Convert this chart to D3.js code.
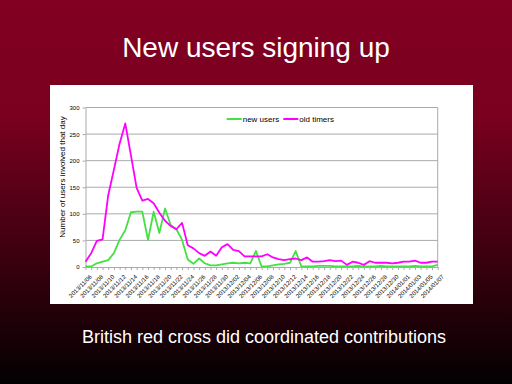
<!DOCTYPE html>
<html>
<head>
<meta charset="utf-8">
<script src="https://cdn.jsdelivr.net/npm/d3@7"></script>
<style>
  html, body { margin: 0; padding: 0; }
  body { width: 512px; height: 384px; overflow: hidden; }
  text { font-family: "Liberation Sans", Arial, sans-serif; }
</style>
</head>
<body>
<svg id="chart" width="512" height="384"></svg>
<script>
// categories (one per day)
var dates = [
  "2013/11/06","2013/11/07","2013/11/08","2013/11/09","2013/11/10","2013/11/11","2013/11/12",
  "2013/11/13","2013/11/14","2013/11/15","2013/11/16","2013/11/17","2013/11/18","2013/11/19",
  "2013/11/20","2013/11/21","2013/11/22","2013/11/23","2013/11/24","2013/11/25","2013/11/26",
  "2013/11/27","2013/11/28","2013/11/29","2013/11/30","2013/12/01","2013/12/02","2013/12/03",
  "2013/12/04","2013/12/05","2013/12/06","2013/12/07","2013/12/08","2013/12/09","2013/12/10",
  "2013/12/11","2013/12/12","2013/12/13","2013/12/14","2013/12/15","2013/12/16","2013/12/17",
  "2013/12/18","2013/12/19","2013/12/20","2013/12/21","2013/12/22","2013/12/23","2013/12/24",
  "2013/12/25","2013/12/26","2013/12/27","2013/12/28","2013/12/29","2013/12/30","2013/12/31",
  "2014/01/01","2014/01/02","2014/01/03","2014/01/04","2014/01/05","2014/01/06","2014/01/07"
];

// series
var newUsers = [
  1, 1, 7, 10, 13, 26, 51, 69, 103, 104, 104, 51, 104, 64, 110, 79, 71, 51, 14, 6, 16,
  7, 3, 3, 5, 7, 8, 7, 8, 7, 30, 1, 1, 3, 5, 6, 8, 30, 1, 1, 1, 2, 2, 2,
  1, 1, 1, 1, 2, 1, 1, 1, 2, 1, 1, 1, 1, 1, 2, 1, 1, 1, 4
];
var oldTimers = [
  10, 26, 49, 52, 135, 183, 232, 270, 210, 149, 125, 128, 120, 102, 87, 77, 71, 83, 41, 35, 26,
  21, 29, 21, 37, 43, 32, 30, 20, 20, 20, 20, 24, 18, 15, 13, 15, 16, 13, 18, 10, 10, 11, 13,
  11, 12, 4, 10, 8, 4, 11, 8, 8, 8, 7, 8, 10, 10, 12, 8, 8, 10, 10
];

var seriesNames = ["new users", "old timers"];
var seriesColors = ["#44e044", "#ff00ff"];
var yTicks = [0, 50, 100, 150, 200, 250, 300];
// every second date gets a label
var xTickLabels = dates.filter(function(d, i) { return i % 2 == 0; });

var titleText = "New users signing up";
var captionText = "British red cross did coordinated contributions";
var yTitle = "Number of users involved that day";

var svg = d3.select("#chart");

// slide background
var grad = svg.append("defs").append("linearGradient")
    .attr("id", "bg").attr("x1", 0).attr("y1", 0).attr("x2", 0).attr("y2", 1);
grad.append("stop").attr("offset", "0%").attr("stop-color", "#820022");
grad.append("stop").attr("offset", "30%").attr("stop-color", "#7a001f");
grad.append("stop").attr("offset", "100%").attr("stop-color", "#030001");
svg.append("rect").attr("width", 512).attr("height", 384).attr("fill", "url(#bg)");

svg.append("text")
    .attr("x", 256).attr("y", 57)
    .attr("text-anchor", "middle")
    .attr("fill", "#fff")
    .style("font-size", "28px")
    .text(titleText);

svg.append("text")
    .attr("x", 264).attr("y", 343)
    .attr("text-anchor", "middle")
    .attr("fill", "#fff")
    .style("font-size", "18px")
    .text(captionText);

// white chart panel
svg.append("rect")
    .attr("x", 50).attr("y", 85).attr("width", 423).attr("height", 219)
    .attr("fill", "#fff");

var plotL = 85.5, plotR = 437.7, plotT = 107.5, plotB = 267;

var x = d3.scalePoint().domain(dates).range([plotL, plotR]);
var y = d3.scaleLinear().domain([0, 300]).range([plotB, plotT]);

// gridlines
svg.append("g").selectAll("line")
    .data(yTicks.slice(1)).enter()
    .append("line")
    .attr("x1", plotL).attr("x2", plotR)
    .attr("y1", function(d) { return y(d); })
    .attr("y2", function(d) { return y(d); })
    .attr("stroke", "#aaa").attr("stroke-width", 1);

svg.append("line")
    .attr("x1", plotR).attr("x2", plotR).attr("y1", plotT).attr("y2", plotB)
    .attr("stroke", "#aaa").attr("stroke-width", 1);

// y axis
var yAxis = svg.append("g")
    .attr("transform", "translate(" + plotL + ",0)")
    .call(d3.axisLeft(y).tickValues(yTicks).tickSize(3).tickSizeOuter(0));
yAxis.select(".domain").attr("stroke", "#aaa");
yAxis.selectAll(".tick line").attr("stroke", "#aaa");
yAxis.selectAll(".tick text")
    .attr("fill", "#000")
    .style("font-size", "6px")
    .style("font-family", "Liberation Sans, Arial, sans-serif");

// x axis
var xAxis = svg.append("g")
    .attr("transform", "translate(0," + plotB + ")")
    .call(d3.axisBottom(x).tickSize(3).tickSizeOuter(0)
      .tickFormat(function(d) { return xTickLabels.indexOf(d) >= 0 ? d : ""; }));
xAxis.select(".domain").attr("stroke", "#aaa");
xAxis.selectAll(".tick line").attr("stroke", "#aaa");
xAxis.selectAll(".tick text")
    .attr("fill", "#000")
    .style("font-size", "6px")
    .style("font-family", "Liberation Sans, Arial, sans-serif")
    .attr("text-anchor", "end")
    .attr("dx", 0).attr("dy", 0)
    .attr("transform", "translate(2,6) rotate(-45)");

svg.append("text")
    .attr("transform", "translate(65,177) rotate(-90)")
    .attr("text-anchor", "middle")
    .attr("fill", "#000")
    .style("font-size", "8px")
    .text(yTitle);

// lines
var line = d3.line()
    .x(function(d, i) { return x(dates[i]); })
    .y(function(d) { return y(d); });

[newUsers, oldTimers].forEach(function(s, k) {
  svg.append("path")
      .datum(s)
      .attr("d", line)
      .attr("fill", "none")
      .attr("stroke", seriesColors[k])
      .attr("stroke-width", 1.8)
      .attr("stroke-linejoin", "round");
});

// legend
var legX = [226.7, 283.3];
seriesNames.forEach(function(n, k) {
  svg.append("line")
      .attr("x1", legX[k]).attr("x2", legX[k] + 15)
      .attr("y1", 119).attr("y2", 119)
      .attr("stroke", seriesColors[k]).attr("stroke-width", 2);
  svg.append("text")
      .attr("x", legX[k] + 16).attr("y", 122)
      .attr("fill", "#000")
      .style("font-size", "8px")
      .text(n);
});
</script>
</body>
</html>
